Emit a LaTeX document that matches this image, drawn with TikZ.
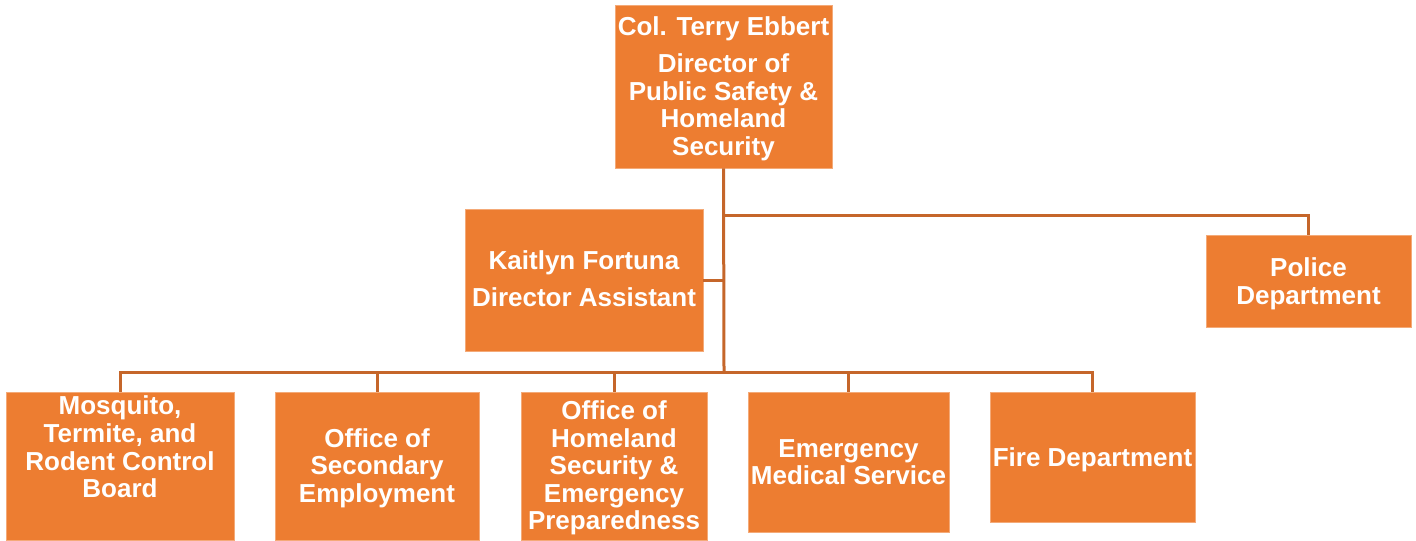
\documentclass[tikz,border=0pt]{standalone}
\usepackage{fontspec}
\setmainfont{Liberation Sans}
\definecolor{boxfill}{RGB}{237,125,49}
\definecolor{boxedge}{RGB}{244,170,120}
\definecolor{linecol}{RGB}{197,102,42}
\begin{document}
\begin{tikzpicture}[x=0.5pt,y=-0.5pt,
  orgbox/.style={rectangle, fill=boxfill, draw=boxedge, line width=0.4pt, inner sep=0pt},
  boxtext/.style={align=center, text=white, inner sep=0pt,
    font=\fontsize{13pt}{13.8pt}\selectfont\bfseries},
  conn/.style={draw=linecol, line width=1.5pt}]
\useasboundingbox (0,0) rectangle (1416,540);
% boxes
\node[orgbox, minimum width=108.5pt, minimum height=81.5pt] (top) at (723.5,86.5) {};
\node[boxtext] (toptext) at ([yshift=-1pt]top.center)
  {Col. Terry Ebbert\\[5pt]Director of\\Public Safety \&\\Homeland\\Security};
\node[orgbox, minimum width=119pt, minimum height=71pt] (kait) at (584,280) {};
\node[boxtext] (kaittext) at ([yshift=0.5pt]kait.center)
  {Kaitlyn Fortuna\\[4.7pt]Director Assistant};
\node[orgbox, minimum width=102.5pt, minimum height=46pt] (police) at (1308.5,281) {};
\node[boxtext] (policetext) at ([yshift=-1.5pt]police.center) {Police\\Department};
\node[orgbox, minimum width=114pt, minimum height=74pt] (mosq) at (120,466) {};
\node[boxtext] (mosqtext) at (120,447)
  {Mosquito,\\Termite, and\\Rodent Control\\Board};
\node[orgbox, minimum width=102pt, minimum height=74pt] (sec) at (377,466) {};
\node[boxtext] (sectext) at ([yshift=-1pt]sec.center)
  {Office of\\Secondary\\Employment};
\node[orgbox, minimum width=93pt, minimum height=74pt] (home) at (614,466) {};
\node[boxtext] (hometext) at ([yshift=-1pt]home.center)
  {Office of\\Homeland\\Security \&\\Emergency\\Preparedness};
\node[orgbox, minimum width=100.5pt, minimum height=70pt] (ems) at (848.5,462) {};
\node[boxtext] (emstext) at (ems.center) {Emergency\\Medical Service};
\node[orgbox, minimum width=102.5pt, minimum height=65pt] (fire) at (1092.5,457) {};
\node[boxtext] (firetext) at ([yshift=-1.5pt]fire.center) {Fire Department};
% connector coordinates
\coordinate (bus) at (724,372);
\coordinate (pbranch) at (724,215);
% connectors
\draw[conn] (top.south) -- (bus);
\draw[conn] (pbranch) -| (police.north);
\draw[conn] (kait.east) -- (kait.east -| bus);
\draw[conn] (mosq.north) |- (bus);
\draw[conn] (fire.north) |- (bus);
\draw[conn] (sec.north) -- (sec.north |- bus);
\draw[conn] (home.north) -- (home.north |- bus);
\draw[conn] (ems.north) -- (ems.north |- bus);
\end{tikzpicture}
\end{document}
